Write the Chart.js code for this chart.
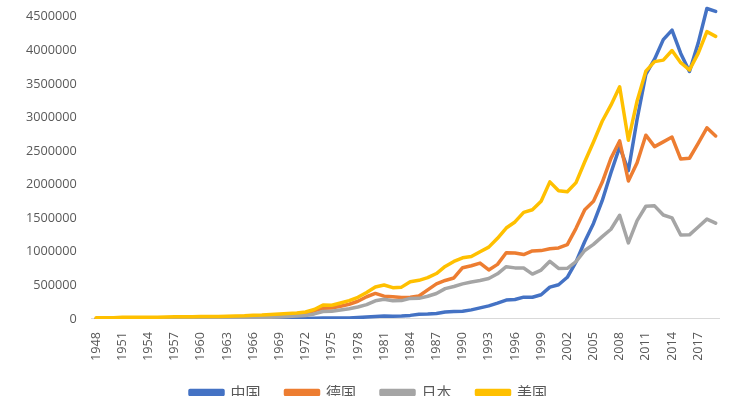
<!DOCTYPE html>
<html>
<head>
<meta charset="utf-8">
<script src="https://cdn.jsdelivr.net/npm/chart.js@4"></script>
<style>
  html, body { margin: 0; padding: 0; background: #fff; overflow: hidden; }
  #view { width: 744px; height: 396px; overflow: hidden; }
  #wrap { position: relative; width: 744px; height: 432px; margin-top: -22px; }
</style>
</head>
<body>
<div id="view"><div id="wrap"><canvas id="tradeChart"></canvas></div></div>
<script>
// 年份 1948-2019
const years = [];
for (let y = 1948; y <= 2019; y++) years.push(String(y));

// 数值读自原图（单位同原图）
const china = [
  900, 1000, 1130, 1960, 1940, 2370, 2440, 3140, 3210, 3100,
  3870, 4380, 3810, 2940, 2660, 2920, 3470, 4250, 4620, 4160,
  4050, 4030, 4590, 4840, 6300, 10980, 14570, 14750, 13440, 14800,
  20640, 29330, 38140, 44030, 41610, 43620, 53550, 69600, 73850, 82650,
  102780, 111680, 115440, 135630, 165530, 195700, 236620, 280860, 289880, 325160,
  323950, 360630, 474300, 509650, 620770, 850990, 1154550, 1421910, 1760440, 2176570,
  2563260, 2207540, 2974000, 3641860, 3867120, 4158990, 4301530, 3953030, 3685560, 4107140,
  4622440, 4578910
];
const germany = [
  2200, 3300, 4700, 7100, 8000, 8200, 9700, 11900, 13500, 15900,
  16600, 18900, 21400, 23500, 25800, 28200, 31900, 35600, 38200, 39000,
  44700, 53500, 64200, 73300, 86700, 122200, 158600, 164300, 190100, 219200,
  263600, 330900, 380600, 339300, 331400, 321400, 325400, 341700, 434100, 522400,
  573800, 611000, 763100, 792000, 832500, 730400, 813000, 987100, 982800, 958900,
  1013400, 1017900, 1046800, 1057700, 1106300, 1349600, 1627400, 1751600, 2034600, 2390800,
  2650900, 2054500, 2326600, 2736600, 2566600, 2637400, 2708600, 2380900, 2393200, 2615600,
  2846200, 2724400
];
const japan = [
  940, 1400, 1800, 3300, 3300, 3700, 4000, 4500, 5700, 7100,
  5900, 7000, 8500, 10000, 10500, 12200, 14600, 16600, 19300, 22100,
  25900, 31000, 38200, 43900, 51900, 75300, 111400, 113600, 132600, 151800,
  177500, 213000, 270400, 294000, 270400, 273600, 306800, 307200, 337900, 379600,
  452100, 484100, 522300, 550900, 572600, 603000, 672500, 778000, 760700, 759100,
  668700, 728100, 858900, 752800, 753900, 854800, 1020200, 1110800, 1226800, 1336500,
  1544500, 1132000, 1464000, 1678600, 1684600, 1548000, 1506000, 1250700, 1252700, 1370600,
  1486700, 1426400
];
const usa = [
  19900, 19000, 19000, 26000, 26000, 26200, 25400, 27200, 31300, 34300,
  31600, 33600, 36200, 36800, 38800, 41400, 45900, 49100, 55600, 58600,
  67600, 74100, 83000, 89400, 104800, 141800, 208000, 205300, 238300, 272600,
  322500, 393000, 477300, 505400, 466000, 474200, 555100, 575600, 614800, 676900,
  782400, 856700, 910500, 930500, 1001600, 1069700, 1201500, 1354000, 1444800, 1586600,
  1626200, 1752500, 2041200, 1909300, 1895000, 2030000, 2341000, 2636000, 2944000, 3184000,
  3457000, 2660000, 3247000, 3690000, 3832000, 3854000, 3997000, 3816000, 3707000, 3954000,
  4278000, 4208000
];

const seriesNames = ['中国', '德国', '日本', '美国'];
const seriesColors = ['#4472C4', '#ED7D31', '#A5A5A5', '#FFC000'];
const seriesData = [china, germany, japan, usa];
const yTicks = [0, 500000, 1000000, 1500000, 2000000, 2500000, 3000000, 3500000, 4000000, 4500000];

const tickFont = { family: "'Open Sans', 'Noto Sans CJK SC', sans-serif", size: 12.7 };

const ctx = document.getElementById('tradeChart').getContext('2d');
new Chart(ctx, {
  type: 'line',
  data: {
    labels: years,
    datasets: seriesData.map(function (d, i) {
      return {
        label: seriesNames[i],
        data: d,
        borderColor: seriesColors[i],
        backgroundColor: seriesColors[i],
        borderWidth: 3.5,
        borderJoinStyle: 'round',
        borderCapStyle: 'round',
        pointRadius: 0,
        tension: 0,
        order: 4 - i   // 美国画在最上层
      };
    })
  },
  options: {
    responsive: true,
    maintainAspectRatio: false,
    animation: false,
    layout: { padding: { left: 11, right: 18, top: 0, bottom: 0 } },
    plugins: {
      tooltip: { enabled: false },
      legend: {
        position: 'bottom',
        labels: {
          boxWidth: 33,
          boxHeight: 4,
          padding: 25,
          color: '#595959',
          font: { family: "'Noto Sans CJK SC', sans-serif", size: 15 },
          sort: function (a, b) { return a.datasetIndex - b.datasetIndex; }
        }
      }
    },
    scales: {
      x: {
        offset: true,
        grid: { display: false, drawTicks: false },
        border: { display: true, color: '#D9D9D9', width: 1 },
        afterFit: function (scale) { scale.height -= 14; },
        ticks: {
          autoSkip: false,
          minRotation: 90,
          maxRotation: 90,
          padding: 13,
          color: '#595959',
          font: tickFont,
          callback: function (v, i) { return i % 3 === 0 ? years[i] : ''; }
        }
      },
      y: {
        min: 0,
        max: 4740000,
        grid: { display: false, drawTicks: false },
        border: { display: false },
        afterBuildTicks: function (scale) {
          scale.ticks = yTicks.map(function (v) { return { value: v }; });
        },
        ticks: {
          padding: 15,
          color: '#595959',
          font: tickFont,
          callback: function (v) { return String(v); }
        }
      }
    }
  }
});
</script>
</body>
</html>
